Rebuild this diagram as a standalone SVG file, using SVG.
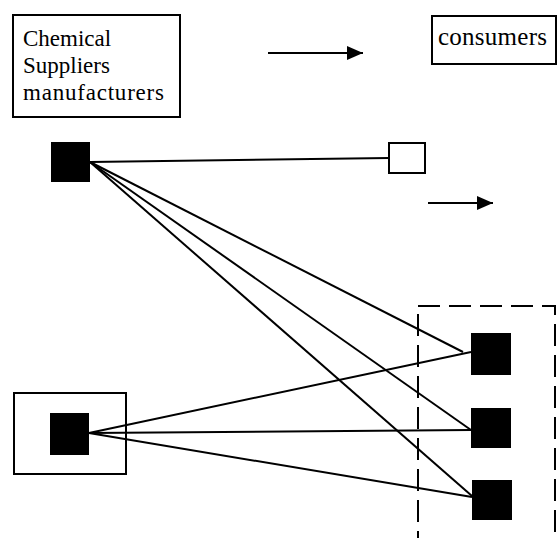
<svg xmlns="http://www.w3.org/2000/svg" width="558" height="538" viewBox="0 0 558 538">
<defs>
<style>
.box{fill:#fff;stroke:#000;stroke-width:2}
.frame{fill:none;stroke:#000;stroke-width:2}
.blk{fill:#000;stroke:none}
.ln{stroke:#000;stroke-width:2;fill:none}
.lbl{font-family:"Liberation Serif","Times New Roman",serif;font-size:23px;fill:#000}
</style>
<marker id="ah" viewBox="0 0 16 14" refX="16" refY="7" markerWidth="16" markerHeight="14" markerUnits="userSpaceOnUse" orient="auto">
<path d="M0,0 L16,7 L0,14 Z" fill="#000"/>
</marker>
</defs>
<rect width="558" height="538" fill="#fff"/>
<g id="suppliers-label">
<rect class="box" x="13" y="15" width="167" height="102"/>
<text class="lbl" x="23" y="46">Chemical</text>
<text class="lbl" x="23" y="73">Suppliers</text>
<text class="lbl" x="23" y="100" textLength="141">manufacturers</text>
</g>
<g id="consumers-label">
<rect class="box" x="432" y="16" width="124" height="48"/>
<text class="lbl" x="438" y="45" style="font-size:25px" textLength="109">consumers</text>
</g>
<g id="arrows">
<line class="ln" x1="268" y1="53" x2="363" y2="53" marker-end="url(#ah)"/>
<line class="ln" x1="428" y1="203" x2="493" y2="203" marker-end="url(#ah)"/>
</g>
<g id="group-consumers">
<rect x="418" y="306" width="137" height="250" fill="none" stroke="#000" stroke-width="2" stroke-dasharray="22 9"/>
</g>
<g id="connectors">
<line class="ln" x1="90" y1="162" x2="389" y2="158"/>
<line class="ln" x1="90" y1="162" x2="463" y2="352"/>
<line class="ln" x1="90" y1="162" x2="471" y2="430"/>
<line class="ln" x1="90" y1="162" x2="472" y2="496"/>
<line class="ln" x1="89" y1="433" x2="471" y2="352"/>
<line class="ln" x1="89" y1="433" x2="471" y2="430"/>
<line class="ln" x1="89" y1="433" x2="472" y2="497"/>
</g>
<g id="supplier-1">
<rect class="blk" x="51" y="142" width="39" height="40"/>
</g>
<g id="consumer-0">
<rect class="box" x="389" y="143" width="36" height="30"/>
</g>
<g id="supplier-2">
<rect class="frame" x="14" y="393" width="112" height="81"/>
<rect class="blk" x="50" y="413" width="39" height="42"/>
</g>
<g id="consumer-1">
<rect class="blk" x="471" y="333" width="40" height="42"/>
</g>
<g id="consumer-2">
<rect class="blk" x="471" y="408" width="40" height="40"/>
</g>
<g id="consumer-3">
<rect class="blk" x="472" y="480" width="40" height="40"/>
</g>
</svg>
